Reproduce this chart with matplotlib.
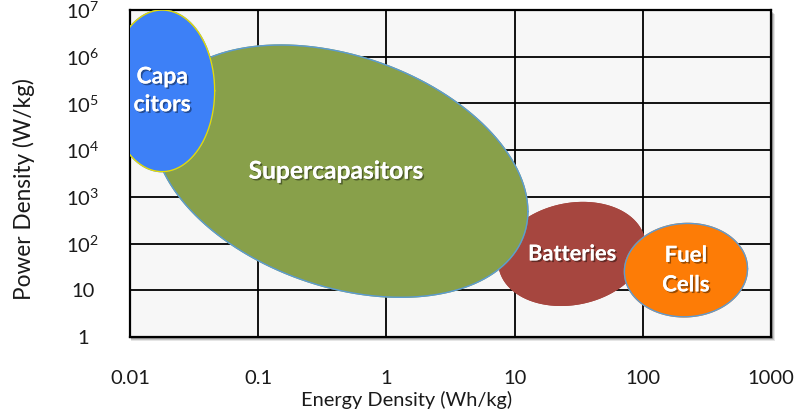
import numpy as np
import matplotlib.pyplot as plt
import matplotlib.patheffects as pe
from matplotlib.patches import Rectangle

plt.rcParams['font.family'] = ['Lato', 'DejaVu Sans']
plt.rcParams['mathtext.default'] = 'regular'

# DATOS: regiones del diagrama de Ragone (centro y semiejes en décadas)
nombres = ["Batteries", "Supercapasitors", "Capa\ncitors", "Fuel\nCells"]
centro_e = [28.0, 0.44, 0.0178, 217.0]      # Wh/kg
centro_p = [60.0, 3550.0, 1.86e5, 27.0]     # W/kg
ancho_dec = [0.57, 1.46, 0.41, 0.48]        # semiancho en décadas
alto_dec = [1.10, 2.70, 1.73, 1.00]         # semialto en décadas
inclinacion = [0.15, -0.32, 0.0, 0.03]      # correlación x-y
colores = ["#a6463f", "#88a04a", "#3d80f7", "#fd7c06"]
bordes = ["#a6463f", "#5b9bd5", "#e6dc00", "#5b9bd5"]
tam_texto = [15.7, 17.7, 16.5, 16.0]
interlineado = [1.2, 1.2, 1.4, 1.5]

x_ticks = [0.01, 0.1, 1, 10, 100, 1000]
x_labels = ["0.01", "0.1", "1", "10", "100", "1000"]
y_ticks = [1, 10, 1e2, 1e3, 1e4, 1e5, 1e6, 1e7]
y_labels = ["1", "10", "$10^2$", "$10^3$", "$10^4$", "$10^5$", "$10^6$", "$10^7$"]


def elipse_log(ce, cp, w, h, r, n=300):
    """Puntos de una elipse definida en espacio log10."""
    t = np.linspace(0, 2 * np.pi, n)
    lx = np.log10(ce) + w * np.cos(t)
    ly = np.log10(cp) + h * (r * np.cos(t) + np.sqrt(1 - r ** 2) * np.sin(t))
    return 10 ** lx, 10 ** ly


fig = plt.figure(figsize=(8, 4.16), dpi=100)
pos = [130 / 800, 1 - 337 / 416, 641 / 800, 327 / 416]

# sombra del área de gráfica
for k, a in [(4, 0.10), (3, 0.14), (2, 0.2)]:
    fig.patches.append(Rectangle((pos[0] + 1 / 800, pos[1] - k / 416),
                                 pos[2] + (k - 1) / 800, pos[3],
                                 transform=fig.transFigure, color="black",
                                 alpha=a, zorder=-5, lw=0))

ax = fig.add_axes(pos)
ax.set_facecolor("#f7f7f7")
ax.set_xscale("log")
ax.set_yscale("log")
ax.set_xlim(0.01, 1000)
ax.set_ylim(1, 1e7)

ax.set_xticks(x_ticks)
ax.set_xticklabels(x_labels)
ax.set_yticks(y_ticks)
ax.set_yticklabels(y_labels)
ax.minorticks_off()
ax.tick_params(length=0, labelsize=14.5, labelcolor="#1a1a1a")
ax.tick_params(axis="x", pad=24)
ax.tick_params(axis="y", pad=34)
for lab in ax.get_yticklabels():
    lab.set_horizontalalignment("center")

ax.grid(True, color="black", linewidth=1.3)
ax.set_axisbelow(True)
for s in ax.spines.values():
    s.set_linewidth(1.6)
    s.set_color("black")

sombra = [pe.withSimplePatchShadow(offset=(1.2, -1.2), shadow_rgbFace="black",
                                    alpha=0.4), pe.Normal()]

for i in range(len(nombres)):
    xs, ys = elipse_log(centro_e[i], centro_p[i], ancho_dec[i], alto_dec[i],
                        inclinacion[i])
    ax.fill(xs, ys, color=colores[i], zorder=3 + i)
    ax.plot(xs, ys, color=bordes[i], linewidth=1.0, zorder=3 + i)
    ax.text(centro_e[i] * (0.92 if i == 1 else 1.0), centro_p[i], nombres[i],
            color="white", fontsize=tam_texto[i], fontweight="bold",
            ha="center", va="center", linespacing=interlineado[i], zorder=10,
            path_effects=sombra)

ax.set_xlabel("Energy Density (Wh/kg)", fontsize=14.4, color="#1a1a1a")
ax.set_ylabel("Power Density (W/kg)", fontsize=16.3, color="#1a1a1a")
ax.xaxis.set_label_coords((407 - 130) / 641, -(391 - 337) / 327)
ax.yaxis.set_label_coords(-(130 - 35) / 641, (337 - 189) / 327)

fig.savefig("out.png", dpi=100)
